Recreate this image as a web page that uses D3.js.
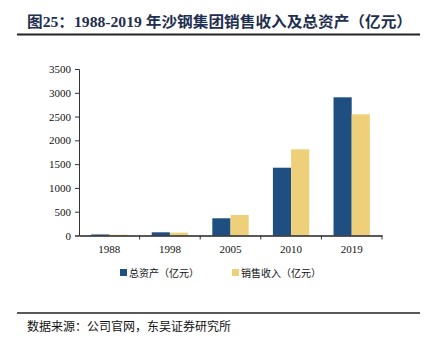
<!DOCTYPE html>
<html>
<head>
<meta charset="utf-8">
<script src="https://cdn.jsdelivr.net/npm/d3@7"></script>
<style>
  body { margin: 0; background: #fff; }
</style>
</head>
<body>
<svg width="427" height="352"></svg>
<script>
var years = ["1988", "1998", "2005", "2010", "2019"];
var seriesNames = ["总资产（亿元）", "销售收入（亿元）"];
var totalAssets = [22, 67, 362, 1425, 2905];
var salesRevenue = [18, 60, 431, 1812, 2548];
var yTicks = [0, 500, 1000, 1500, 2000, 2500, 3000, 3500];
var colors = ["#1f4e80", "#eecf7a"];

var svg = d3.select("svg");

// title
svg.append("text")
    .attr("x", 27).attr("y", 27)
    .attr("font-family", "'Liberation Serif', 'Noto Sans CJK SC', serif")
    .attr("font-weight", "bold")
    .attr("font-size", "15px")
    .attr("fill", "#1f2f4f")
    .attr("textLength", 385)
    .attr("lengthAdjust", "spacingAndGlyphs")
    .text("图25：1988-2019 年沙钢集团销售收入及总资产（亿元）");

svg.append("line")
    .attr("x1", 17).attr("x2", 420).attr("y1", 34.5).attr("y2", 34.5)
    .attr("stroke", "#222").attr("stroke-width", 2);

svg.append("line")
    .attr("x1", 17).attr("x2", 420).attr("y1", 313).attr("y2", 313)
    .attr("stroke", "#222").attr("stroke-width", 1.5);

svg.append("text")
    .attr("x", 27).attr("y", 331)
    .attr("font-family", "'Noto Sans CJK SC', sans-serif")
    .attr("font-size", "12px")
    .attr("fill", "#111")
    .text("数据来源：公司官网，东吴证券研究所");

// chart area
var plotLeft = 79, plotRight = 382, plotTop = 69, plotBottom = 235.5;

var x = d3.scaleBand().domain(years).range([plotLeft, plotRight]).padding(0);
var x1 = d3.scaleBand().domain([0, 1])
    .range([x.bandwidth() * 0.2, x.bandwidth() * 0.8]).padding(0);
var y = d3.scaleLinear().domain([0, 3500]).range([plotBottom, plotTop]);

var data = years.map(function (yr, i) {
    return { year: yr, values: [totalAssets[i], salesRevenue[i]] };
});

var groups = svg.selectAll(".grp")
    .data(data)
    .enter()
    .append("g")
    .attr("class", "grp")
    .attr("transform", function (d) { return "translate(" + x(d.year) + ",0)"; });

groups.selectAll("rect")
    .data(function (d) { return d.values; })
    .enter()
    .append("rect")
    .attr("x", function (d, i) { return x1(i); })
    .attr("y", function (d) { return y(d); })
    .attr("width", x1.bandwidth())
    .attr("height", function (d) { return plotBottom - y(d); })
    .attr("fill", function (d, i) { return colors[i]; });

// y axis
var yAxis = svg.append("g")
    .attr("transform", "translate(" + plotLeft + ",0)")
    .call(d3.axisLeft(y).tickValues(yTicks).tickFormat(d3.format("d")).tickSize(4).tickPadding(4));
yAxis.attr("font-family", "'Liberation Serif', serif");
yAxis.select(".domain").attr("stroke", "#333");
yAxis.selectAll(".tick line").attr("stroke", "#333");
yAxis.selectAll("text")
    .attr("font-family", "'Liberation Serif', serif")
    .attr("font-size", "11px")
    .attr("fill", "#111");

// x axis
var xAxis = svg.append("g")
    .attr("transform", "translate(0," + plotBottom + ")")
    .call(d3.axisBottom(x).tickSize(0).tickPadding(10));
xAxis.attr("font-family", "'Liberation Serif', serif");
xAxis.select(".domain").attr("stroke", "#222").attr("stroke-width", 1.3);
xAxis.selectAll("text")
    .attr("font-family", "'Liberation Serif', serif")
    .attr("font-size", "11px")
    .attr("fill", "#111");

svg.append("g")
    .selectAll("line")
    .data(years)
    .enter()
    .append("line")
    .attr("x1", function (d) { return x(d) + x.bandwidth(); })
    .attr("x2", function (d) { return x(d) + x.bandwidth(); })
    .attr("y1", plotBottom).attr("y2", plotBottom + 4)
    .attr("stroke", "#333");

// legend
var legendX = [120, 232];
var legend = svg.selectAll(".leg")
    .data(seriesNames)
    .enter()
    .append("g")
    .attr("class", "leg")
    .attr("transform", function (d, i) { return "translate(" + legendX[i] + ",269)"; });

legend.append("rect")
    .attr("width", 7).attr("height", 7)
    .attr("fill", function (d, i) { return colors[i]; });

legend.append("text")
    .attr("x", 9).attr("y", 7.5)
    .attr("font-family", "'Noto Sans CJK SC', sans-serif")
    .attr("font-size", "10px")
    .attr("fill", "#111")
    .text(function (d) { return d; });
</script>
</body>
</html>
